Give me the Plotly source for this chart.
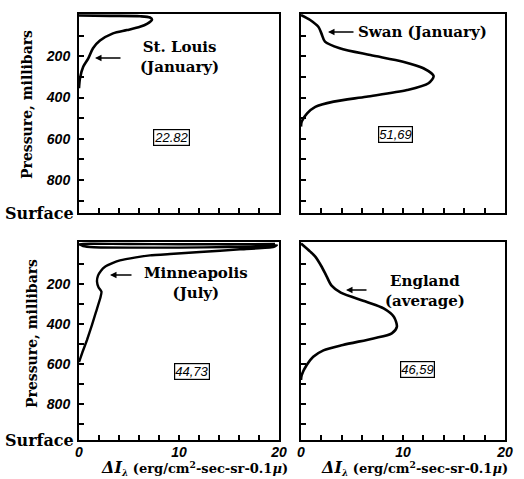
import plotly.graph_objects as go

# ---------------- data ----------------
# St. Louis (January)
stl_x = [0, 3.1, 6.1, 7.1, 7.3, 6.8, 6.1, 4.8, 3.4, 2.1, 1.4, 0.93, 0.43, 0.1, 0]
stl_p = [2, 4, 6, 12, 22, 43, 57, 73, 89, 124, 161, 210, 250, 307, 355]

# Swan (January)
swan_x = [0, 0.9, 1.7, 2.0, 2.35, 3.8, 6.8, 10.0, 12.0, 13.0, 12.5, 10.4, 6.4, 3.2, 1.4, 0.6, 0.07, 0]
swan_p = [0, 24, 57, 89, 129, 161, 194, 226, 258, 296, 331, 364, 396, 420, 445, 477, 517, 541]

# Minneapolis (July)
mpl_x = [19.6, 15, 10, 5, 1.5, 0, 0.4, 1.5, 5, 10, 15, 19.0, 19.8, 19.4, 16.1, 12.1, 9.1, 7.1,
         5.7, 4.1, 3.4, 2.6, 2.2, 1.9, 1.8, 1.95, 2.25, 2.15, 1.7, 1.3, 0.8, 0.35, 0]
mpl_p = [2, 3, 3, 2, 1, 2, 12, 18, 20, 20, 17, 12, 8, 18, 29, 42, 52, 59,
         69, 84, 96, 115, 135, 160, 190, 218, 240, 268, 341, 406, 481, 541, 591]

# England (average)
eng_x = [0, 0.9, 1.4, 2.0, 2.5, 3.0, 3.9, 6.4, 8.1, 9.1, 9.4, 8.9, 7.1, 4.1, 2.2, 1.2, 0.56, 0.07, 0]
eng_p = [0, 40, 65, 113, 162, 210, 245, 290, 323, 365, 415, 448, 473, 506, 533, 565, 606, 656, 680]

box_values = ["22.82", "51,69", "44,73", "46,59"]
station_labels = ["St. Louis<br>(January)", "Swan (January)", "Minneapolis<br>(July)", "England<br>(average)"]

p_ticks = [100, 200, 300, 400, 500, 600, 700, 800, 900]
p_ticktext = ["", "200", "", "400", "", "600", "", "800", ""]
x_ticks = [0, 2, 4, 6, 8, 10, 12, 14, 16, 18, 20]
x_ticktext = ["0", "", "", "", "", "10", "", "", "", "", "20"]

# ---------------- layout helpers ----------------
W, H = 524, 479
def fx(px):
    return px / W
def fy(py):
    return 1 - py / H

SERIF = "DejaVu Serif"
TICKFONT = dict(family="Liberation Sans", size=14, color="black", style="italic", weight="bold")

fig = go.Figure()
line = dict(color="black", width=2.6, shape="spline", smoothing=0.8)
fig.add_trace(go.Scatter(x=stl_x, y=stl_p, mode="lines", line=line, xaxis="x", yaxis="y"))
fig.add_trace(go.Scatter(x=swan_x, y=swan_p, mode="lines", line=line, xaxis="x2", yaxis="y2"))
fig.add_trace(go.Scatter(x=mpl_x, y=mpl_p, mode="lines",
                         line=dict(color="black", width=2.4, shape="spline", smoothing=0.4),
                         xaxis="x3", yaxis="y3"))
fig.add_trace(go.Scatter(x=eng_x, y=eng_p, mode="lines", line=line, xaxis="x4", yaxis="y4"))

left_dom = [fx(79), fx(279)]
right_dom = [fx(301), fx(505)]
top_dom = [fy(213), fy(14)]
bot_dom = [fy(440), fy(242)]

def xax(dom, anchor, labels):
    return dict(domain=dom, anchor=anchor, range=[0, 20], showgrid=False, zeroline=False,
                showline=True, linecolor="black", linewidth=2, mirror=True,
                ticks="inside", ticklen=5, tickwidth=1.5, tickcolor="black",
                tickvals=x_ticks, ticktext=x_ticktext, showticklabels=labels,
                ticklabelstandoff=-2,
                tickfont=TICKFONT, fixedrange=True)

def yax(dom, anchor, rng, labels):
    return dict(domain=dom, anchor=anchor, range=rng, showgrid=False, zeroline=False,
                showline=True, linecolor="black", linewidth=2, mirror=True,
                ticks="inside", ticklen=5, tickwidth=1.5, tickcolor="black",
                tickvals=p_ticks, ticktext=p_ticktext, showticklabels=labels,
                ticklabelstandoff=4,
                tickfont=TICKFONT, fixedrange=True)

top_rng = [960, -5]
bot_rng = [980, -8]

fig.update_layout(
    width=W, height=H, margin=dict(l=0, r=0, t=0, b=0, autoexpand=False),
    paper_bgcolor="white", plot_bgcolor="white", showlegend=False,
    xaxis=xax(left_dom, "y", False), yaxis=yax(top_dom, "x", top_rng, True),
    xaxis2=xax(right_dom, "y2", False), yaxis2=yax(top_dom, "x2", top_rng, False),
    xaxis3=xax(left_dom, "y3", True), yaxis3=yax(bot_dom, "x3", bot_rng, True),
    xaxis4=xax(right_dom, "y4", True), yaxis4=yax(bot_dom, "x4", bot_rng, False),
)

ann = []
lab_font = dict(family=SERIF, size=15, color="black", weight="bold")
# station labels
ann.append(dict(x=fx(179), y=fy(57), text=station_labels[0], xanchor="center", yanchor="middle", font=lab_font))
ann.append(dict(x=fx(356), y=fy(32), text=station_labels[1], xanchor="left", yanchor="middle", font=lab_font))
ann.append(dict(x=fx(196), y=fy(283), text=station_labels[2], xanchor="center", yanchor="middle", font=lab_font))
ann.append(dict(x=fx(425), y=fy(291), text=station_labels[3], xanchor="center", yanchor="middle", font=lab_font))

# arrows (head, tail) in pixels
arrows = [((95, 58), (122, 58)), ((328, 32), (355, 32)), ((110, 275), (133, 275)), ((346, 290), (368, 290))]
for (hx, hy), (tx, ty) in arrows:
    ann.append(dict(x=fx(hx), y=fy(hy), ax=tx - hx, ay=ty - hy, text="", showarrow=True,
                    arrowhead=2, arrowsize=1, arrowwidth=1.3, arrowcolor="black"))

# boxed numbers
box_pos = [(171, 138), (395, 135), (192, 371), (417, 369)]
for (bx, by), val in zip(box_pos, box_values):
    ann.append(dict(x=fx(bx), y=fy(by), text=val, xanchor="center", yanchor="middle", showarrow=False,
                    bordercolor="black", borderwidth=1.2, borderpad=0,
                    font=dict(family="Liberation Sans", size=13, color="black", style="italic")))

# Surface labels
for sy in (213, 440):
    ann.append(dict(x=fx(76), y=fy(sy), text="Surface", xanchor="right", yanchor="middle", showarrow=False,
                    font=dict(family=SERIF, size=16, color="black", weight="bold")))

# y-axis titles
for (tx, ty) in ((27, 105), (32, 334)):
    ann.append(dict(x=fx(tx), y=fy(ty), text="Pressure, millibars", textangle=-90, showarrow=False,
                    xanchor="center", yanchor="middle",
                    font=dict(family=SERIF, size=14, color="black", weight="bold")))

# x-axis titles
xt = ("<span style='font-size:16px'><i>ΔI</i></span><sub><i>λ</i></sub> "
      "(erg/cm<sup>2</sup>-sec-sr-0.1<i>μ</i>)")
for cx in (194, 414):
    ann.append(dict(x=fx(cx), y=fy(468), text=xt, showarrow=False, xanchor="center", yanchor="middle",
                    font=dict(family=SERIF, size=13, color="black", weight="bold")))

for a in ann:
    a.setdefault("xref", "paper")
    a.setdefault("yref", "paper")
    a.setdefault("showarrow", False)
fig.update_layout(annotations=ann)

fig.write_html("out.html", config={"displayModeBar": False},
               post_script="document.body.style.margin='0px';")
